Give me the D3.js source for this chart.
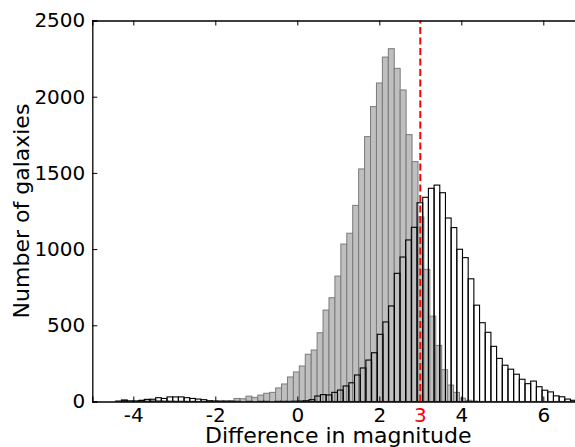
<!DOCTYPE html>
<meta charset="utf-8">
<head>
    <title>Difference in magnitude</title>
    <script type="text/javascript" src="https://d3js.org/d3.v7.min.js"></script>
    <style>
        html, body { margin: 0; padding: 0; background: white; }
        svg { display: block; font-family: "DejaVu Sans", sans-serif; }
    </style>
</head>
<body>
<div id="chart"></div>
<script>
    // histogram bins (left edge of first bin + bin width), counts
    var grayStart = -4.581, grayWidth = 0.1447;
    var grayCounts = [0, 3, 12, 2, 4, 10, 12, 8, 6, 4, 3, 2, 2, 1, 1, 0, 1, 2, 3, 5,
        6, 20, 18, 35, 27, 42, 54, 60, 89, 115, 161, 194, 233, 310, 338, 451, 600, 681,
        823, 1033, 1104, 1287, 1526, 1738, 1935, 2090, 2260, 2315, 2186, 2044, 1751,
        1574, 1210, 867, 560, 368, 209, 108, 60, 22, 8, 3];

    var whiteStart = -4.564, whiteWidth = 0.1386;
    var whiteCounts = [0, 2, 8, 4, 3, 6, 14, 15, 25, 20, 30, 30, 30, 25, 20, 16, 12, 5, 3, 2,
        1, 1, 1, 0, 1, 0, 1, 1, 0, 1, 1, 1, 2, 3, 5, 12, 36, 45, 43, 60, 75, 102, 123, 174,
        220, 272, 320, 441, 522, 627, 841, 948, 1060, 1143, 1304, 1340, 1399, 1420, 1370,
        1204, 1141, 999, 944, 805, 632, 517, 454, 362, 283, 238, 212, 179, 146, 117, 134,
        97, 74, 63, 37, 31, 16, 8];

    var xTicks = [-4, -2, 0, 2, 4, 6];
    var yTicks = [0, 500, 1000, 1500, 2000, 2500];
    var cutValue = 3;

    var margin = {top: 20.5, left: 92.3, bottom: 45.5};
    var W = 575, H = 447;

    var svg = d3.select("#chart").append("svg")
        .attr("width", W).attr("height", H);

    var x = d3.scaleLinear().domain([-5, 7]).range([margin.left, margin.left + 492]);
    var y = d3.scaleLinear().domain([0, 2500]).range([H - margin.bottom, margin.top]);

    function bins(start, width, counts) {
        return counts.map(function(c, i) {
            return {x0: start + i * width, x1: start + (i + 1) * width, n: c};
        });
    }

    var defs = svg.append("defs");
    defs.append("clipPath").attr("id", "plotclip").append("rect")
        .attr("x", x(-5)).attr("y", y(2500))
        .attr("width", x(7) - x(-5)).attr("height", y(0) - y(2500));
    // the y label is cut on its left side in the original figure
    defs.append("clipPath").attr("id", "labelclip").append("rect")
        .attr("x", 12.5).attr("y", 0).attr("width", 80).attr("height", H);

    var plot = svg.append("g").attr("clip-path", "url(#plotclip)");

    plot.append("g").selectAll("rect")
        .data(bins(grayStart, grayWidth, grayCounts).filter(d => d.n > 0))
        .enter().append("rect")
        .attr("x", d => x(d.x0))
        .attr("y", d => y(d.n))
        .attr("width", d => x(d.x1) - x(d.x0))
        .attr("height", d => y(0) - y(d.n))
        .attr("fill", "#bfbfbf")
        .attr("stroke", "#7a7a7a")
        .attr("stroke-width", 1);

    plot.append("g").selectAll("rect")
        .data(bins(whiteStart, whiteWidth, whiteCounts).filter(d => d.n > 0))
        .enter().append("rect")
        .attr("x", d => x(d.x0))
        .attr("y", d => y(d.n))
        .attr("width", d => x(d.x1) - x(d.x0))
        .attr("height", d => y(0) - y(d.n))
        .attr("fill", "none")
        .attr("stroke", "black")
        .attr("stroke-width", 1.1);

    // red cut line
    plot.append("line")
        .attr("x1", x(cutValue)).attr("x2", x(cutValue))
        .attr("y1", y(0)).attr("y2", y(2500))
        .attr("stroke", "red")
        .attr("stroke-width", 2)
        .attr("stroke-dasharray", "7,3.5");

    // axes: ticks pointing inward
    var xAxis = d3.axisBottom(x).tickValues(xTicks).tickSize(-5).tickPadding(6.5)
        .tickFormat(d => d < 0 ? "-" + Math.abs(d) : d);
    var gx = svg.append("g").attr("transform", "translate(0," + y(0) + ")").call(xAxis);
    var xTop = d3.axisTop(x).tickValues(xTicks).tickSize(-5).tickFormat("");
    var gxt = svg.append("g").attr("transform", "translate(0," + y(2500) + ")").call(xTop);
    var yAxis = d3.axisLeft(y).tickValues(yTicks).tickSize(-5).tickPadding(7)
        .tickFormat(d3.format("d"));
    var gy = svg.append("g").attr("transform", "translate(" + x(-5) + ",0)").call(yAxis);

    [gx, gxt, gy].forEach(function(g) {
        g.select(".domain").attr("stroke", "black").attr("stroke-width", 1.3);
        g.selectAll(".tick line").attr("stroke", "black").attr("stroke-width", 1);
        g.selectAll(".tick text").attr("font-size", 20).attr("fill", "black")
            .attr("font-family", "DejaVu Sans");
    });

    // red tick label for the cut
    svg.append("text")
        .attr("x", x(cutValue)).attr("y", y(0) + 6.5)
        .attr("dy", "0.71em")
        .attr("text-anchor", "middle")
        .attr("font-size", 20).attr("fill", "red")
        .text(cutValue);

    svg.append("text")
        .attr("x", (x(-5) + x(7)) / 2).attr("y", 442.5)
        .attr("text-anchor", "middle")
        .attr("font-size", 22)
        .text("Difference in magnitude");

    svg.append("g").attr("clip-path", "url(#labelclip)")
        .append("text")
        .attr("transform", "translate(28.5," + y(1250) + ") rotate(-90)")
        .attr("text-anchor", "middle")
        .attr("font-size", 22)
        .text("Number of galaxies");
</script>
</body>
</html>
